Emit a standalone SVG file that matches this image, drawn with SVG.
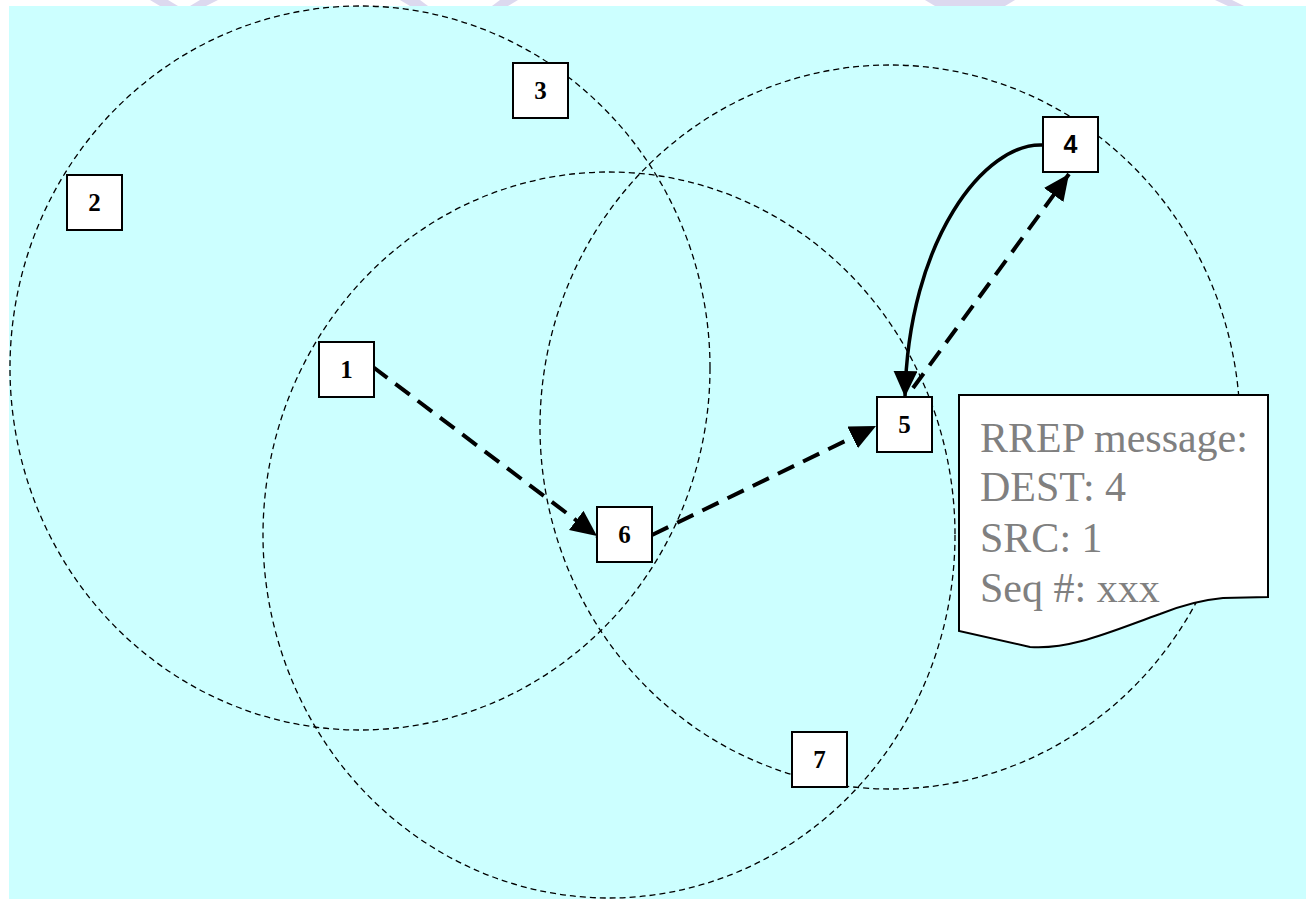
<svg xmlns="http://www.w3.org/2000/svg" width="1306" height="899" viewBox="0 0 1306 899">
  <style>
    .range { fill: none; stroke: #000; stroke-width: 1.3; stroke-dasharray: 6 4; }
    .box { fill: #fff; stroke: #000; stroke-width: 2; }
    .lbl { font-family: "Liberation Serif", serif; font-weight: bold; font-size: 25px; text-anchor: middle; fill: #000; }
    .lbl-sans { font-family: "Liberation Sans", sans-serif; font-weight: bold; font-size: 25px; text-anchor: middle; fill: #000; }
    .hop { fill: none; stroke: #000; stroke-width: 4; stroke-dasharray: 18 10; }
    .reply { fill: none; stroke: #000; stroke-width: 3.5; }
    .note { fill: #fff; stroke: #000; stroke-width: 2; }
    .note-text { font-family: "Liberation Serif", serif; font-size: 42px; fill: #808080; }
    .mark { fill: #dcd9ef; }
  </style>
  <defs>
    <marker id="head" markerUnits="userSpaceOnUse" markerWidth="30" markerHeight="26" refX="26" refY="12" orient="auto">
      <path d="M0,0 L26,12 L0,24 Z" fill="#000"/>
    </marker>
  </defs>

  <!-- faint marks along the top edge -->
  <g id="top-marks">
    <polygon class="mark" points="150,0 168,0 178,6 160,6"/>
    <polygon class="mark" points="200,0 218,0 206,6 190,6"/>
    <polygon class="mark" points="400,0 420,0 428,6 410,6"/>
    <polygon class="mark" points="500,0 518,0 508,6 492,6"/>
    <polygon class="mark" points="925,0 1015,0 1005,6 935,6"/>
    <polygon class="mark" points="1215,0 1232,0 1244,6 1228,6"/>
  </g>

  <!-- field -->
  <rect id="field" x="9" y="6" width="1297" height="893" fill="#ccffff"/>

  <!-- radio ranges -->
  <g id="ranges">
    <ellipse class="range" cx="360" cy="368" rx="350" ry="362"/>
    <ellipse class="range" cx="609" cy="535" rx="346" ry="363"/>
    <ellipse class="range" cx="890" cy="427" rx="350" ry="362"/>
  </g>

  <!-- route reply message -->
  <g id="rrep-note">
    <path class="note" d="M959,395 L1268,395 L1268,597 L1223,598 C1200,600 1180,606 1160,614 C1110,632 1070,650 1030,647 L959,631 Z"/>
    <text class="note-text" x="980" y="452">RREP message:</text>
    <text class="note-text" x="980" y="501">DEST: 4</text>
    <text class="note-text" x="980" y="552">SRC: 1</text>
    <text class="note-text" x="980" y="602">Seq #: xxx</text>
  </g>

  <!-- connectors -->
  <g id="connectors">
    <line class="hop" x1="373" y1="367" x2="597" y2="536" marker-end="url(#head)"/>
    <line class="hop" x1="652" y1="535" x2="876" y2="426" marker-end="url(#head)"/>
    <line class="hop" x1="913" y1="388" x2="1069" y2="174" marker-end="url(#head)"/>
    <path class="reply" d="M1043,145 C985,142 908,240 905,397" marker-end="url(#head)"/>
  </g>

  <!-- nodes -->
  <g id="node-1"><rect class="box" x="319" y="342" width="55" height="55"/><text class="lbl" x="346.5" y="378">1</text></g>
  <g id="node-2"><rect class="box" x="67" y="175" width="55" height="55"/><text class="lbl" x="94.5" y="211">2</text></g>
  <g id="node-3"><rect class="box" x="513" y="63" width="55" height="55"/><text class="lbl" x="540.5" y="99">3</text></g>
  <g id="node-4"><rect class="box" x="1043" y="117" width="55" height="55"/><text class="lbl-sans" x="1070.5" y="153">4</text></g>
  <g id="node-5"><rect class="box" x="877" y="397" width="55" height="55"/><text class="lbl" x="904.5" y="433">5</text></g>
  <g id="node-6"><rect class="box" x="597" y="507" width="55" height="55"/><text class="lbl" x="624.5" y="543">6</text></g>
  <g id="node-7"><rect class="box" x="792" y="732" width="55" height="55"/><text class="lbl" x="819.5" y="768">7</text></g>
</svg>
